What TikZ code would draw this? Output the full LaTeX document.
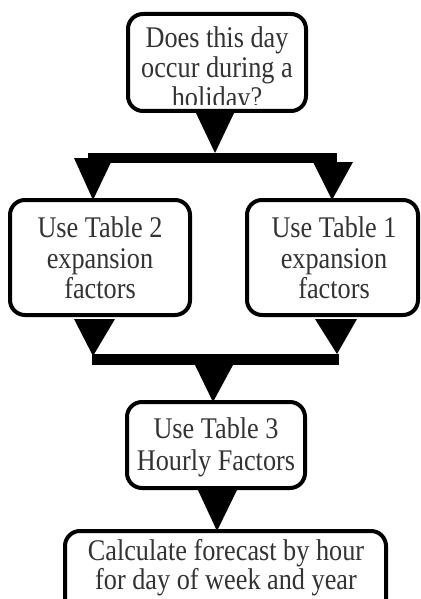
\documentclass[tikz,border=0pt]{standalone}
\usepackage{fontspec}
\usepackage{graphicx}
\setmainfont{Liberation Serif}
\usetikzlibrary{calc}
\newcommand{\narrow}[1]{\scalebox{0.875}[1]{#1}}
\begin{document}
\begin{tikzpicture}[x=1pt,y=-1pt,
  box/.style={draw=black,line width=4pt,rounded corners=15pt,inner sep=0pt,outer sep=0pt,fill=white},
  txt/.style={anchor=base,inner sep=0pt,text=black!80,font=\fontsize{30}{30}\selectfont},
  head/.style={fill=black},
  bar/.style={fill=black}]
\useasboundingbox (0,0) rectangle (420,599);
% boxes
\node[box,minimum width=178pt,minimum height=97pt] (q) at (217,62.5) {};
\node[box,minimum width=180pt,minimum height=115pt] (t2) at (100,257.5) {};
\node[box,minimum width=171pt,minimum height=115pt] (t1) at (332.5,257.5) {};
\node[box,minimum width=178pt,minimum height=86pt] (t3) at (216,445) {};
\node[box,minimum width=321pt,minimum height=109pt] (calc) at (225.5,585.5) {};
% texts
\begin{scope}
\clip (128,16) rectangle (306,105);
\node[txt] (q1) at (217,48) {\narrow{Does this day}};
\node[txt] (q2) at (217,78) {\narrow{occur during a}};
\node[txt] (q3) at (217,108) {\narrow{holiday?}};
\end{scope}
\node[txt] (a1) at (100,237.5) {\narrow{Use Table 2}};
\node[txt] (a2) at (100,268) {\narrow{expansion}};
\node[txt] (a3) at (100,298) {\narrow{factors}};
\node[txt] (b1) at (334,237.5) {\narrow{Use Table 1}};
\node[txt] (b2) at (334,268) {\narrow{expansion}};
\node[txt] (b3) at (334,298) {\narrow{factors}};
\node[txt] (c1) at (216,438) {\narrow{Use Table 3}};
\node[txt] (c2) at (216,470) {\narrow{Hourly Factors}};
\node[txt] (d1) at (226,560) {\narrow{Calculate forecast by hour}};
\node[txt] (d2) at (226,589) {\narrow{for day of week and year}};
% connectors
\coordinate (split) at (215,153);
\fill[head] ($(q.south)+(-22,0)$) -- ($(q.south)+(18,0)$) -- (split) -- cycle;
\fill[bar] (88,153) rectangle (337,163);
\fill[head] (74,158) -- (113,158) -- (t2.north -| 93,0) -- cycle;
\fill[head] (313,162) -- (353,162) -- (t1.north -| 332,0) -- cycle;
\fill[head] (74,319) -- (115,319) -- (93,356) -- cycle;
\fill[head] (315,319) -- (357,319) -- (337,354) -- cycle;
\fill[bar] (92,354) rectangle (339,365);
\fill[head] (195,365) -- (233,365) -- (t3.north -| 213,0) -- cycle;
\fill[head] ($(t3.south)+(-19,0)$) -- ($(t3.south)+(22,0)$) -- (calc.north -| 217,0) -- cycle;
\end{tikzpicture}
\end{document}
